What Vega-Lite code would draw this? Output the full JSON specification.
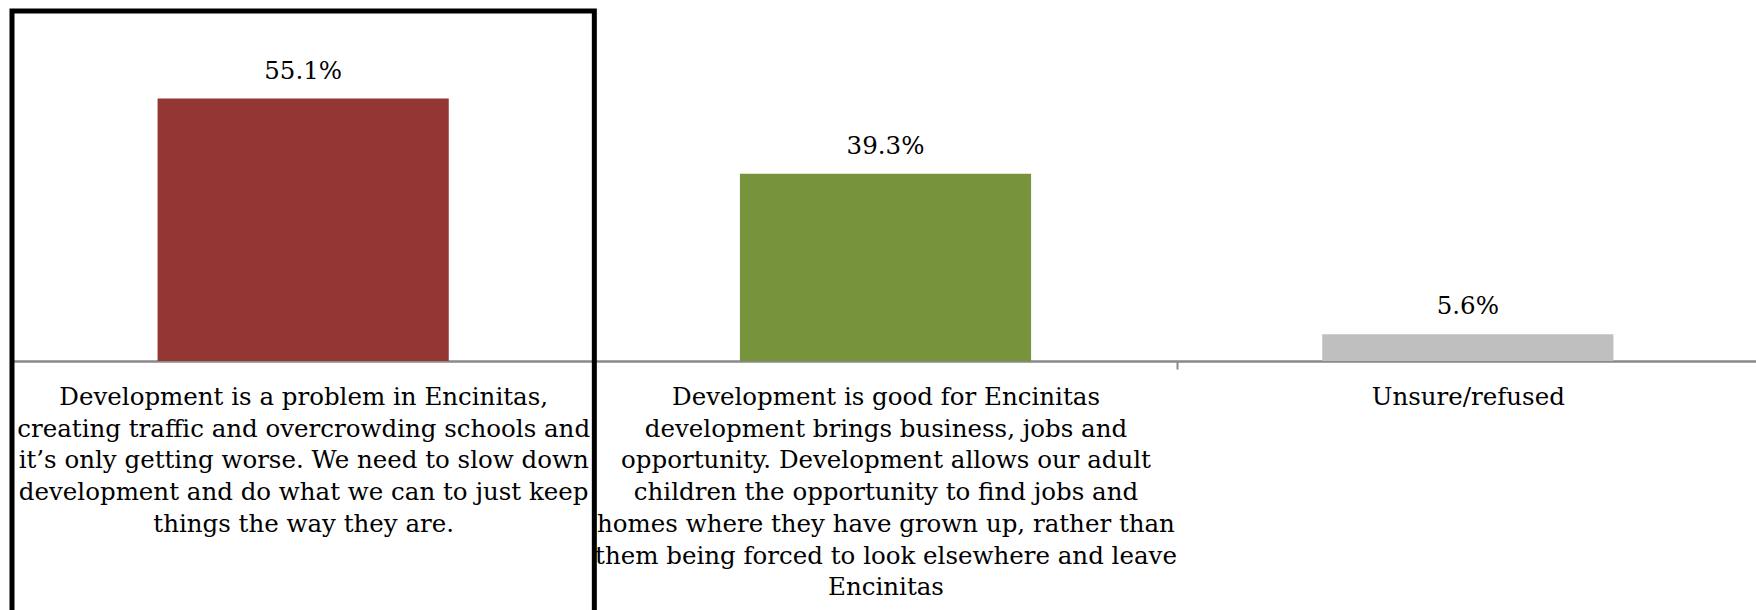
{
  "$schema": "https://vega.github.io/schema/vega-lite/v6.json",
  "width": 1747,
  "height": 350,
  "autosize": {"type": "none"},
  "padding": {"left": 12, "top": 11, "right": 0, "bottom": 249},
  "background": "white",
  "config": {"view": {"stroke": null}, "font": "DejaVu Serif"},
  "data": {
    "values": [
      {"category": "Development is a problem in Encinitas,|creating traffic and overcrowding schools and|it’s only getting worse. We need to slow down|development and do what we can to just keep|things the way they are.", "share": 0.551, "group": "problem"},
      {"category": "Development is good for Encinitas|development brings business, jobs and|opportunity. Development allows our adult|children the opportunity to find jobs and|homes where they have grown up, rather than|them being forced to look elsewhere and leave|Encinitas", "share": 0.393, "group": "good"},
      {"category": "Unsure/refused", "share": 0.056, "group": "unsure"}
    ]
  },
  "encoding": {
    "x": {
      "field": "category",
      "type": "nominal",
      "sort": null,
      "scale": {"paddingInner": 0, "paddingOuter": 0},
      "axis": {
        "title": null,
        "labelAngle": 0,
        "domainColor": "#898989",
        "domainWidth": 2.5,
        "tickBand": "extent",
        "tickColor": "#898989",
        "tickWidth": 2,
        "tickSize": 8,
        "labelFont": "DejaVu Serif",
        "labelFontSize": 24.5,
        "labelColor": "black",
        "labelLineHeight": 31.7,
        "labelPadding": 16.5,
        "labelLimit": 0,
        "labelBaseline": "top",
        "labelExpr": "isString(datum.value) ? split(datum.value, '|') : ''"
      }
    }
  },
  "layer": [
    {
      "mark": {"type": "bar", "width": {"band": 0.5}},
      "encoding": {
        "y": {"field": "share", "type": "quantitative", "scale": {"domain": [0, 0.735], "nice": false, "zero": false}, "axis": null},
        "color": {
          "field": "group",
          "type": "nominal",
          "scale": {"domain": ["problem", "good", "unsure"], "range": ["#943634", "#77933C", "#BFBFBF"]},
          "legend": null
        }
      }
    },
    {
      "mark": {"type": "text", "dy": -20, "baseline": "alphabetic", "fontSize": 24.5, "font": "DejaVu Serif", "color": "black"},
      "encoding": {
        "y": {"field": "share", "type": "quantitative", "scale": {"domain": [0, 0.735], "nice": false, "zero": false}, "axis": null},
        "text": {"field": "share", "type": "quantitative", "format": ".1%"}
      }
    },
    {
      "transform": [{"filter": "datum.group === 'problem'"}],
      "mark": {"type": "rect", "fill": "transparent", "stroke": "black", "strokeWidth": 5},
      "encoding": {
        "y": {"datum": 0.735, "type": "quantitative", "scale": {"domain": [0, 0.735], "nice": false, "zero": false}, "axis": null},
        "y2": {"datum": -0.6}
      }
    }
  ]
}
